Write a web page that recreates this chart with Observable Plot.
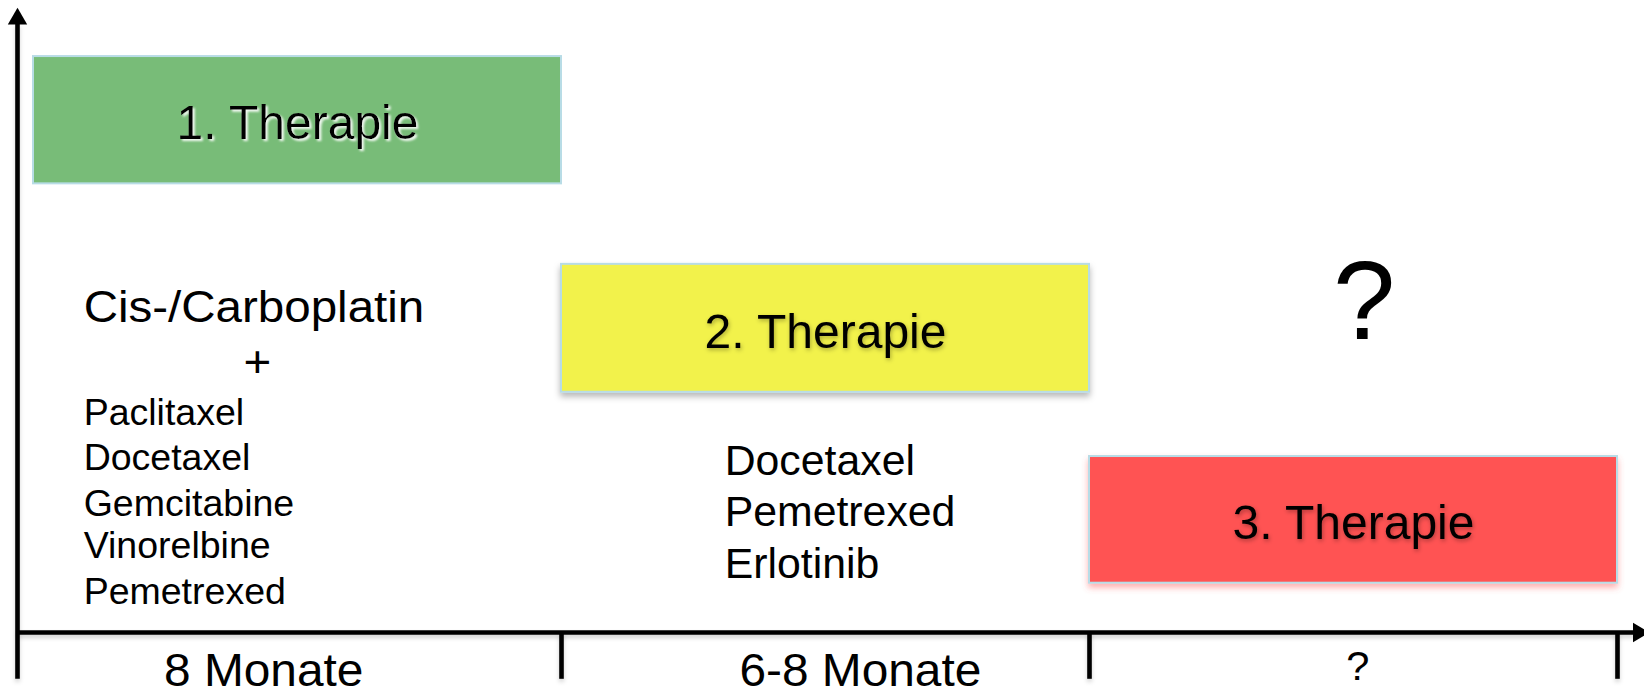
<!DOCTYPE html>
<html><head><meta charset="utf-8">
<script src="https://cdn.jsdelivr.net/npm/d3@7"></script>
<script src="https://cdn.jsdelivr.net/npm/@observablehq/plot@0.6"></script>
<style>
html,body{margin:0;padding:0;background:#fff;}
#chart svg{display:block;}
</style></head><body><div id="chart"></div>
<script>
// x: therapy phases (one unit per phase), y: percent of the vertical axis
const therapyLabels = ["1. Therapie", "2. Therapie", "3. Therapie"];
const therapyStart = [0, 1, 2];
const therapyEnd = [1, 2, 3];
const therapyTop = [92.3, 59.0, 28.2];
const therapyBottom = [71.9, 38.5, 7.9];
const therapyLabelY = [81.6, 48.1, 17.5];
const therapyColors = ["#78bc78", "#f2f24b", "#ff5353"];

const firstLineHead = ["Cis-/Carboplatin"];
const firstLineHeadX = [0.095];
const firstLineHeadY = [49.8];
const firstLinePlus = ["+"];
const firstLinePlusX = [0.424];
const firstLinePlusY = [41.0];

const firstLineDrugs = ["Paclitaxel", "Docetaxel", "Gemcitabine", "Vinorelbine", "Pemetrexed"];
const firstLineDrugY = [33.2, 26.0, 18.75, 11.9, 4.6];
const firstLineDrugX = 0.095;

const secondLineDrugs = ["Docetaxel", "Pemetrexed", "Erlotinib"];
const secondLineDrugY = [25.2, 17.0, 8.8];
const secondLineDrugX = 1.309;

const thirdLineMark = ["?"];
const thirdLineMarkX = [2.52];
const thirdLineMarkY = [47.0];

const durationLabels = ["8 Monate", "6-8 Monate", "?"];
const durationX = [0.436, 1.566, 2.508];
const durationY = [-8.5, -8.5, -7.6];
const durationSize = [46, 46, 40];

const axisOrigin = -0.0303;
const tickX = [1, 2, 3];
const tickBottom = -7.5;
const xAxisEnd = 3.035;
const yAxisTop = 97.5;
const arrowX = [axisOrigin, 3.040];
const arrowY = [98.33, 0];
const arrowRotate = [0, 90];

const idx = a => a.map((_, i) => i);
const font = "'Liberation Sans', Arial, Helvetica, sans-serif";

const chart = Plot.plot({
  width: 1644,
  height: 696,
  margin: 0,
  x: {domain: [0, 3], range: [33, 1617], axis: null},
  y: {domain: [0, 100], range: [632, 8], axis: null},
  color: {type: "identity"},
  style: {fontFamily: font, background: "white", overflow: "visible"},
  marks: [
    Plot.rect(idx(therapyLabels), {
      x1: i => therapyStart[i], x2: i => therapyEnd[i],
      y1: i => therapyBottom[i], y2: i => therapyTop[i],
      fill: i => therapyColors[i], stroke: "#b8dce6", strokeWidth: 2,
      ariaDescription: "boxes"
    }),
    Plot.text(idx(therapyLabels), {
      x: i => (therapyStart[i] + therapyEnd[i]) / 2, y: i => therapyLabelY[i],
      text: i => therapyLabels[i], fontSize: 48, fill: "black",
      ariaDescription: "boxlabels"
    }),
    // axes
    Plot.ruleX([axisOrigin], {y1: tickBottom, y2: yAxisTop, stroke: "black", strokeWidth: 4.6, ariaDescription: "axis"}),
    Plot.ruleY([0], {x1: axisOrigin, x2: xAxisEnd, stroke: "black", strokeWidth: 4.6, ariaDescription: "axis"}),
    Plot.ruleX(tickX, {y1: 0, y2: tickBottom, stroke: "black", strokeWidth: 4.6, ariaDescription: "axis"}),
    Plot.dot(idx(arrowX), {
      x: i => arrowX[i], y: i => arrowY[i], rotate: i => arrowRotate[i],
      symbol: "triangle", r: 7.2, fill: "black", stroke: "none"
    }),
    // first-line text
    Plot.text(idx(firstLineHead), {
      x: i => firstLineHeadX[i], y: i => firstLineHeadY[i], text: i => firstLineHead[i],
      textAnchor: "start", lineAnchor: "bottom", fontSize: 44, fill: "black",
      ariaDescription: "stretch"
    }),
    Plot.text(idx(firstLinePlus), {
      x: i => firstLinePlusX[i], y: i => firstLinePlusY[i], text: i => firstLinePlus[i],
      textAnchor: "middle", lineAnchor: "bottom", fontSize: 44, fill: "black",
      ariaDescription: "stretch"
    }),
    Plot.text(idx(firstLineDrugs), {
      x: () => firstLineDrugX, y: i => firstLineDrugY[i], text: i => firstLineDrugs[i],
      textAnchor: "start", lineAnchor: "bottom", fontSize: 37.5, fill: "black"
    }),
    Plot.text(idx(secondLineDrugs), {
      x: () => secondLineDrugX, y: i => secondLineDrugY[i], text: i => secondLineDrugs[i],
      textAnchor: "start", lineAnchor: "bottom", fontSize: 42.8, fill: "black"
    }),
    Plot.text(idx(thirdLineMark), {
      x: i => thirdLineMarkX[i], y: i => thirdLineMarkY[i], text: i => thirdLineMark[i],
      lineAnchor: "bottom", fontSize: 112, fill: "black"
    }),
    Plot.text(idx(durationLabels), {
      x: i => durationX[i], y: i => durationY[i], text: i => durationLabels[i],
      fontSize: i => durationSize[i],
      lineAnchor: "bottom", fill: "black",
      ariaDescription: "stretchLabels"
    })
  ]
});

// soft shadows like the slide
const svg = d3.select(chart);
const defs = svg.insert("defs", ":first-child");
function shadow(id, dx, dy, sd, color, op, user) {
  const f = defs.append("filter").attr("id", id);
  if (user) f.attr("filterUnits", "userSpaceOnUse").attr("x", 0).attr("y", 0).attr("width", 1644).attr("height", 696);
  else f.attr("x", "-20%").attr("y", "-20%").attr("width", "140%").attr("height", "160%");
  f.append("feDropShadow").attr("dx", dx).attr("dy", dy).attr("stdDeviation", sd)
    .attr("flood-color", color).attr("flood-opacity", op);
}
shadow("shGray", 0, 4, 3, "#000", 0.28);
shadow("shRed", 0, 4, 3, "#ff5353", 0.45);
shadow("shTextWhite", 2, 2, 1, "#fff", 0.9);
shadow("shTextDark", 1, 2, 2, "#000", 0.3);
shadow("shLine", 0, 3, 2, "#000", 0.18, true);

const boxFilters = [null, "url(#shGray)", "url(#shRed)"];
svg.selectAll('g[aria-description="boxes"] rect').each(function(_, i) {
  if (boxFilters[i]) this.setAttribute("filter", boxFilters[i]);
});
const labelFilters = ["url(#shTextWhite)", "url(#shTextDark)", "url(#shTextDark)"];
svg.selectAll('g[aria-description="boxlabels"] text').each(function(_, i) {
  this.setAttribute("filter", labelFilters[i]);
});
svg.selectAll('g[aria-description="axis"]').attr("filter", "url(#shLine)");
svg.selectAll('g[aria-description="stretch"] text').each(function() {
  const t = this.getAttribute("transform") || "";
  this.setAttribute("transform", t + " scale(1.08,1)");
});
svg.selectAll('g[aria-description="stretchLabels"] text').each(function() {
  const t = this.getAttribute("transform") || "";
  this.setAttribute("transform", t + " scale(1.04,1)");
});

document.getElementById("chart").appendChild(chart);
</script>
</body></html>
